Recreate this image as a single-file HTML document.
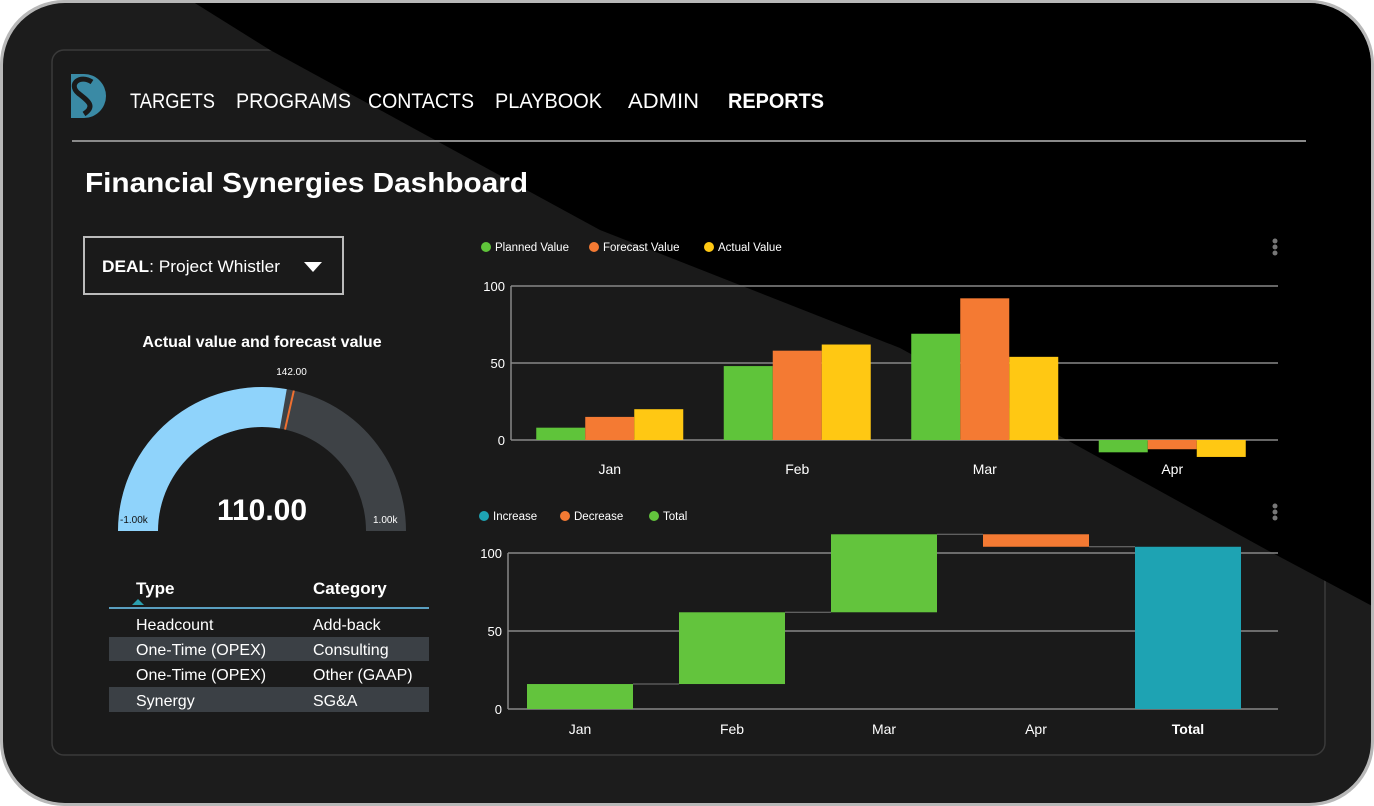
<!DOCTYPE html>
<html><head><meta charset="utf-8">
<style>
html,body{margin:0;padding:0;width:1374px;height:806px;overflow:hidden;background:#fff;}
svg{display:block;font-family:"Liberation Sans",sans-serif;}
</style></head>
<body>
<svg width="1374" height="806" viewBox="0 0 1374 806">
  <defs>
    <clipPath id="dev"><rect x="3" y="3" width="1368" height="800" rx="62"/></clipPath>
  </defs>
  <rect x="0" y="0" width="1374" height="806" rx="64" fill="#b8b8b8"/>
  <g clip-path="url(#dev)">
    <rect x="0" y="0" width="1374" height="806" fill="#1c1c1c"/>
    <rect x="52" y="50" width="1273" height="705" rx="12" fill="#1a1a1a" stroke="#3a3a3a" stroke-width="1.5"/>
    <polygon points="190,0 1374,0 1374,607 1267,550 1067,440 900,348 600,230 270,50" fill="#000"/>
  </g>

  <g>
    <path d="M71,74 L84,74 A22,22 0 0 1 84,118 L71,118 Z" fill="#3a8aa5"/>
    <path d="M92,82 C80,74 68,84 78,93 C88,101 96,106 84,114" stroke="#1a1a1a" stroke-width="5" fill="none"/>
  </g>
  <g font-size="21">
    <text x="130" y="108" fill="#fff" textLength="85" lengthAdjust="spacingAndGlyphs">TARGETS</text>
    <text x="236" y="108" fill="#fff" textLength="115" lengthAdjust="spacingAndGlyphs">PROGRAMS</text>
    <text x="368" y="108" fill="#fff" textLength="106" lengthAdjust="spacingAndGlyphs">CONTACTS</text>
    <text x="495" y="108" fill="#fff" textLength="107" lengthAdjust="spacingAndGlyphs">PLAYBOOK</text>
    <text x="628" y="108" fill="#fff" textLength="71" lengthAdjust="spacingAndGlyphs">ADMIN</text>
    <text x="728" y="108" fill="#fff" font-weight="bold" textLength="96" lengthAdjust="spacingAndGlyphs">REPORTS</text>
  </g>
  <line x1="72" y1="141" x2="1306" y2="141" stroke="#8a8a8a" stroke-width="2"/>
  <text x="85" y="192" font-size="28" font-weight="bold" fill="#fff" textLength="443" lengthAdjust="spacingAndGlyphs">Financial Synergies Dashboard</text>

  <g>
    <rect x="84" y="237" width="259" height="57" fill="none" stroke="#bbb" stroke-width="2"/>
    <text x="102" y="272" font-size="17" fill="#fff" textLength="178" lengthAdjust="spacingAndGlyphs"><tspan font-weight="bold">DEAL</tspan>: Project Whistler</text>
    <polygon points="304,262 322,262 313,272" fill="#fff"/>
  </g>

  <text x="262" y="347" font-size="16" font-weight="bold" fill="#fff" text-anchor="middle">Actual value and forecast value</text>
  <g id="gauge"></g>

  <g>
    <text x="136" y="594" font-size="17" font-weight="bold" fill="#fff">Type</text>
    <polygon points="132,605 144,605 138,599" fill="#2aa0b0"/>
    <text x="313" y="594" font-size="17" font-weight="bold" fill="#fff">Category</text>
    <line x1="109" y1="608" x2="429" y2="608" stroke="#5a9fc0" stroke-width="2"/>
    <rect x="109" y="637" width="320" height="24" fill="#3b4045"/>
    <rect x="109" y="687" width="320" height="25" fill="#3b4045"/>
    <g font-size="16" fill="#fff">
      <text x="136" y="630">Headcount</text><text x="313" y="630">Add-back</text>
      <text x="136" y="655">One-Time (OPEX)</text><text x="313" y="655">Consulting</text>
      <text x="136" y="680">One-Time (OPEX)</text><text x="313" y="680">Other (GAAP)</text>
      <text x="136" y="706">Synergy</text><text x="313" y="706">SG&amp;A</text>
    </g>
  </g>

  <g id="bar"></g>
  <g id="wf"></g>

  <g fill="#777">
    <circle cx="1275" cy="241" r="2.5"/><circle cx="1275" cy="247" r="2.5"/><circle cx="1275" cy="253" r="2.5"/>
  </g>
  <g fill="#777">
    <circle cx="1275" cy="506" r="2.5"/><circle cx="1275" cy="512" r="2.5"/><circle cx="1275" cy="518" r="2.5"/>
  </g>
</svg>
<script>
const NS='http://www.w3.org/2000/svg';
function mk(p,tag,attrs,txt){const e=document.createElementNS(NS,tag);for(const k in attrs)e.setAttribute(k,attrs[k]);if(txt!==undefined)e.textContent=txt;p.appendChild(e);return e;}

const gaugeMin=-1000;
const gaugeMax=1000;
const gaugeValue=110;
const gaugeTarget=142;
const gaugeLabels=['-1.00k','1.00k','110.00','142.00'];

const barCategories=['Jan','Feb','Mar','Apr'];
const plannedValues=[8,48,69,-8];
const forecastValues=[15,58,92,-6];
const actualValues=[20,62,54,-11];
const barTicks=[0,50,100];
const barSeriesNames=['Planned Value','Forecast Value','Actual Value'];

const wfCategories=['Jan','Feb','Mar','Apr','Total'];
const wfDeltas=[16,46,50,-8];
const wfTicks=[0,50,100];
const wfLegend=['Increase','Decrease','Total'];

(function(){
  const g=document.getElementById('gauge');
  const cx=262,cy=531,R=144,r=104;
  const ang=v=>Math.PI*(1-(v-gaugeMin)/(gaugeMax-gaugeMin));
  const pt=(a,rad)=>[cx+rad*Math.cos(a),cy-rad*Math.sin(a)];
  function arc(a0,a1,fill,name){
    const p1=pt(a0,R),p2=pt(a1,R),p3=pt(a1,r),p4=pt(a0,r);
    const e=mk(g,'path',{d:`M${p1} A${R},${R} 0 0 1 ${p2} L${p3} A${r},${r} 0 0 0 ${p4} Z`,fill:fill});
    
    
  }
  arc(Math.PI,0,'#3e4246','gauge-track');
  arc(Math.PI,ang(gaugeValue),'#8fd3fb','gauge-value-arc');
  const a=ang(gaugeTarget),q1=pt(a,R),q2=pt(a,r);
  const m=mk(g,'line',{x1:q1[0],y1:q1[1],x2:q2[0],y2:q2[1],stroke:'#f07030','stroke-width':2});
  
  
  const tl=pt(a,R+12);
  mk(g,'text',{x:tl[0]-5,y:tl[1]-4,'font-size':10,fill:'#fff','text-anchor':'middle'},gaugeLabels[3]);
  mk(g,'text',{x:cx-R+2,y:cy-8,'font-size':10,fill:'#111'},gaugeLabels[0]);
  mk(g,'text',{x:cx+R-33,y:cy-8,'font-size':10,fill:'#fff'},gaugeLabels[1]);
  const v=mk(g,'text',{x:cx,y:cy-11,'font-size':30,'font-weight':'bold',fill:'#fff','text-anchor':'middle'},gaugeLabels[2]);
  
  
})();

(function(){
  const g=document.getElementById('bar');
  const x0=511,x1=1278,y0=440,yTop=286,vMax=100;
  const bx0=516,bx1=1266;
  const y=v=>y0-(v/vMax)*(y0-yTop);
  const band=(bx1-bx0)/barCategories.length;
  const colors=['#5fc43a','#f47a33','#ffc813'];
  let lx=486;
  barSeriesNames.forEach((n,i)=>{
    const c=mk(g,'circle',{cx:lx,cy:247,r:5,fill:colors[i]});
    
    
    const t=mk(g,'text',{x:lx+9,y:251,'font-size':11.5,fill:'#fff'},n);
    
    
    lx+=[108,115,100][i];
  });
  barTicks.forEach(t=>{
    mk(g,'line',{x1:x0,y1:y(t),x2:x1,y2:y(t),stroke:'#888','stroke-width':1.5});
    const l=mk(g,'text',{x:x0-6,y:y(t)+5,'font-size':13,fill:'#fff','text-anchor':'end'},t);
    
    
  });
  mk(g,'line',{x1:x0,y1:y(vMax),x2:x0,y2:y0,stroke:'#888','stroke-width':1.5});
  const series=[plannedValues,forecastValues,actualValues];
  const bw=49;
  barCategories.forEach((c,i)=>{
    const cxm=bx0+band*(i+0.5);
    series.forEach((s,j)=>{
      const v=s[i],bx=cxm-bw*1.5+bw*j;
      const r=mk(g,'rect',{x:bx,y:Math.min(y(v),y0),width:bw,height:Math.abs(y(v)-y0),fill:colors[j]});
      
      
    });
    const t=mk(g,'text',{x:cxm,y:474,'font-size':14,fill:'#fff','text-anchor':'middle'},c);
    
    
  });
})();

(function(){
  const g=document.getElementById('wf');
  const x0=508,x1=1278,y0=709,yTop=553,vMax=100;
  const bx0=504,bx1=1264;
  const y=v=>y0-(v/vMax)*(y0-yTop);
  const band=(bx1-bx0)/wfCategories.length;
  const colors=['#1ea3b3','#f47a33','#63c43d'];
  let lx=484;
  wfLegend.forEach((n,i)=>{
    const c=mk(g,'circle',{cx:lx,cy:516,r:5,fill:colors[i]});
    
    
    const t=mk(g,'text',{x:lx+9,y:520,'font-size':11.5,fill:'#fff'},n);
    
    
    lx+=[81,89,0][i];
  });
  wfTicks.forEach(t=>{
    mk(g,'line',{x1:x0,y1:y(t),x2:x1,y2:y(t),stroke:'#888','stroke-width':1.5});
    const l=mk(g,'text',{x:x0-6,y:y(t)+5,'font-size':13,fill:'#fff','text-anchor':'end'},t);
    
    
  });
  mk(g,'line',{x1:x0,y1:y(vMax),x2:x0,y2:y0,stroke:'#888','stroke-width':1.5});
  const bw=106;
  let cum=0;
  wfCategories.forEach((c,i)=>{
    const cxm=bx0+band*(i+0.5);
    let a,b,col;
    if(i<wfDeltas.length){a=cum;b=cum+wfDeltas[i];col=wfDeltas[i]>=0?colors[2]:colors[1];cum=b;}
    else{a=0;b=cum;col=colors[0];}
    const r=mk(g,'rect',{x:cxm-bw/2,y:y(Math.max(a,b)),width:bw,height:Math.abs(y(a)-y(b)),fill:col});
    
    
    if(i<wfCategories.length-1){
      mk(g,'line',{x1:cxm+bw/2,y1:y(cum),x2:cxm+band-bw/2,y2:y(cum),stroke:'#777','stroke-width':1});
    }
    const t=mk(g,'text',{x:cxm,y:734,'font-size':14,fill:'#fff','text-anchor':'middle','font-weight':i===wfCategories.length-1?'bold':'normal'},c);
    
    
  });
})();
</script>
</body></html>
